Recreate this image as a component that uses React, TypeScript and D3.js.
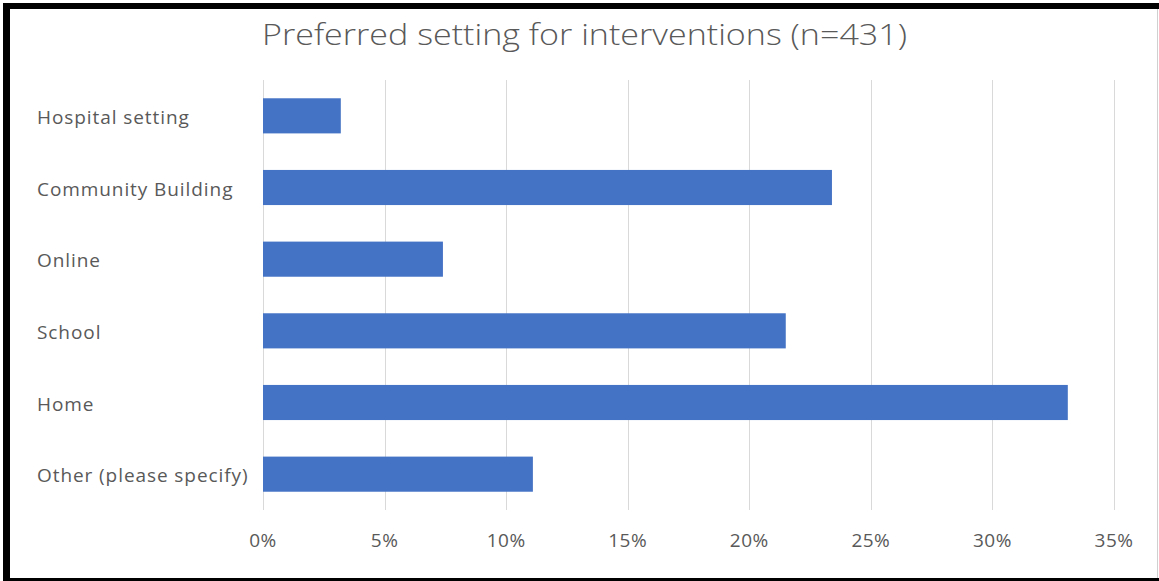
import React from "react";
import * as d3 from "d3";

// Survey responses: preferred setting for interventions (share of respondents, %)
const categories = [
  "Hospital setting",
  "Community Building",
  "Online",
  "School",
  "Home",
  "Other (please specify)",
];
const shares = [3.2, 23.4, 7.4, 21.5, 33.1, 11.1];
const tickValues = [0, 5, 10, 15, 20, 25, 30, 35];
const title = "Preferred setting for interventions (n=431)";

const W = 1159;
const H = 581;
const FONT = "'Open Sans', 'Noto Sans', sans-serif";
const TEXT = "#595959";
const BAR = "#4472C4";
const GRID = "#d9d9d9";

export default function App() {
  const plot = { left: 263, right: 1114, top: 80, bottom: 510 };

  const x = d3.scaleLinear().domain([0, 35]).range([plot.left, plot.right]);
  const y = d3
    .scaleBand<string>()
    .domain(categories)
    .range([plot.top, plot.bottom])
    .paddingInner(0.51)
    .paddingOuter(0.255);

  return (
    <svg
      width={W}
      height={H}
      style={{ position: "absolute", left: 0, top: 0, display: "block" }}
    >
      <rect x={0} y={0} width={W} height={H} fill="#fff" />

      {/* frame */}
      <rect x={3} y={3} width={W - 3} height={6} fill="#000" />
      <rect x={3} y={3} width={7} height={H - 3} fill="#000" />
      <rect x={3} y={578} width={W - 3} height={3} fill="#000" />
      <line x1={1157.5} x2={1157.5} y1={9} y2={578} stroke="#d0d0d0" strokeWidth={1} />

      {/* title */}
      <text
        x={262}
        y={45}
        fontFamily={FONT}
        fontSize={29}
        fontWeight={300}
        fill={TEXT}
        textLength={645}
        lengthAdjust="spacingAndGlyphs"
      >
        {title}
      </text>

      {/* vertical gridlines */}
      {tickValues.map((t) => (
        <line
          key={`g${t}`}
          x1={Math.round(x(t)) + 0.5}
          x2={Math.round(x(t)) + 0.5}
          y1={plot.top}
          y2={plot.bottom}
          stroke={GRID}
          strokeWidth={1}
        />
      ))}

      {/* bars */}
      {categories.map((c, i) => (
        <rect
          key={c}
          x={x(0)}
          y={y(c)}
          width={x(shares[i]) - x(0)}
          height={y.bandwidth()}
          fill={BAR}
        />
      ))}

      {/* category labels */}
      {categories.map((c) => (
        <text
          key={`l${c}`}
          x={37}
          y={(y(c) ?? 0) + y.bandwidth() / 2 + 8}
          fontFamily={FONT}
          fontSize={19}
          letterSpacing={0.92}
          fill={TEXT}
        >
          {c}
        </text>
      ))}

      {/* x tick labels */}
      {tickValues.map((t) => (
        <text
          key={`t${t}`}
          x={x(t)}
          y={547}
          textAnchor="middle"
          fontFamily={FONT}
          fontSize={19}
          letterSpacing={0.5}
          fill={TEXT}
        >
          {`${t}%`}
        </text>
      ))}
    </svg>
  );
}
